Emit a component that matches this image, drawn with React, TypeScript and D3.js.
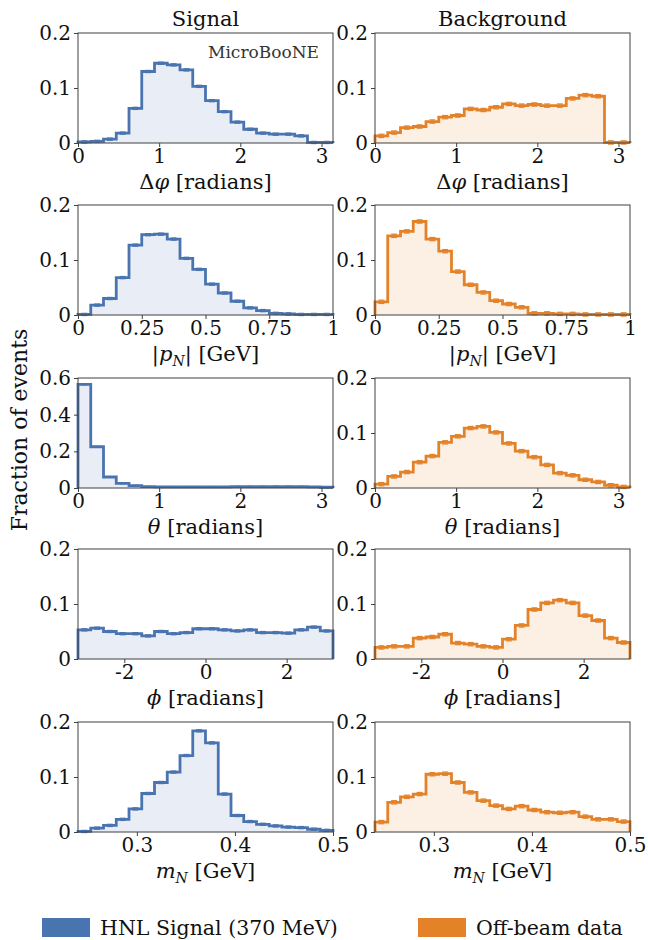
import React, { useRef, useEffect } from 'react';
import * as d3 from 'd3';

// bin contents (fraction of events), 20 equal-width bins per panel
const signalDphi = [0.002, 0.003, 0.007, 0.018, 0.063, 0.130, 0.145, 0.142, 0.133, 0.103, 0.077, 0.057, 0.038, 0.025, 0.018, 0.016, 0.016, 0.013, 0.001, 0.001];
const bgDphi = [0.013, 0.019, 0.028, 0.030, 0.039, 0.047, 0.050, 0.062, 0.060, 0.065, 0.071, 0.068, 0.070, 0.068, 0.068, 0.081, 0.087, 0.085, 0.001, 0.001];
const signalP = [0.001, 0.018, 0.030, 0.068, 0.127, 0.146, 0.147, 0.138, 0.103, 0.083, 0.056, 0.040, 0.025, 0.013, 0.008, 0.003, 0.002, 0.001, 0.001, 0.001];
const bgP = [0.024, 0.144, 0.152, 0.170, 0.138, 0.116, 0.079, 0.055, 0.041, 0.026, 0.020, 0.014, 0.003, 0.003, 0.002, 0.002, 0.001, 0.001, 0.001, 0.001];
const signalTheta = [0.565, 0.225, 0.060, 0.025, 0.013, 0.007, 0.006, 0.006, 0.006, 0.006, 0.006, 0.006, 0.007, 0.007, 0.007, 0.008, 0.008, 0.007, 0.006, 0.004];
const bgTheta = [0.007, 0.021, 0.029, 0.047, 0.058, 0.083, 0.094, 0.109, 0.112, 0.101, 0.081, 0.067, 0.056, 0.042, 0.027, 0.023, 0.015, 0.011, 0.005, 0.002];
const signalPhi = [0.053, 0.056, 0.050, 0.046, 0.046, 0.042, 0.050, 0.046, 0.048, 0.055, 0.055, 0.053, 0.051, 0.053, 0.048, 0.048, 0.047, 0.053, 0.058, 0.051];
const bgPhi = [0.021, 0.023, 0.023, 0.038, 0.040, 0.045, 0.029, 0.027, 0.023, 0.021, 0.036, 0.061, 0.090, 0.102, 0.107, 0.102, 0.079, 0.070, 0.038, 0.030];
const signalMass = [0.001, 0.007, 0.012, 0.023, 0.042, 0.070, 0.090, 0.109, 0.139, 0.184, 0.162, 0.069, 0.030, 0.019, 0.014, 0.011, 0.009, 0.008, 0.005, 0.003];
const bgMass = [0.018, 0.054, 0.064, 0.069, 0.105, 0.106, 0.090, 0.072, 0.057, 0.048, 0.042, 0.047, 0.040, 0.036, 0.035, 0.036, 0.028, 0.023, 0.023, 0.019];

const PI = Math.PI;
const angleTicks = [0, 1, 2, 3];
const momentumTicks = [0, 0.25, 0.5, 0.75, 1];
const phiTicks = [-2, 0, 2];
const massTicks = [0.3, 0.4, 0.5];
const yTicksSmall = [0, 0.1, 0.2];
const yTicksTheta = [0, 0.2, 0.4, 0.6];

const signalErr = 0.002;
const bgErr = 0.003;

const columnTitles = ['Signal', 'Background'];
const legendLabels = ['HNL Signal (370 MeV)', 'Off-beam data'];

const BLUE = '#4a74b0';
const ORANGE = '#e38228';
const BLUE_FILL = '#e9eef6';
const ORANGE_FILL = '#fcefe3';
const FONT = '"DejaVu Serif", serif';

// each label is a list of [text, style] pieces
const rows = [
  { data: [signalDphi, bgDphi], domain: [0, PI], ticks: angleTicks, yMax: [0.2, 0.2], yTicks: [yTicksSmall, yTicksSmall],
    label: [['Δ', ''], ['φ', 'it'], [' [radians]', '']] },
  { data: [signalP, bgP], domain: [0, 1], ticks: momentumTicks, yMax: [0.2, 0.2], yTicks: [yTicksSmall, yTicksSmall],
    label: [['|', ''], ['p', 'it'], ['N', 'sub'], ['| [GeV]', 'up']] },
  { data: [signalTheta, bgTheta], domain: [0, PI], ticks: angleTicks, yMax: [0.6, 0.2], yTicks: [yTicksTheta, yTicksSmall],
    label: [['θ', 'it'], [' [radians]', '']] },
  { data: [signalPhi, bgPhi], domain: [-PI, PI], ticks: phiTicks, yMax: [0.2, 0.2], yTicks: [yTicksSmall, yTicksSmall],
    label: [['ϕ', 'it'], [' [radians]', '']] },
  { data: [signalMass, bgMass], domain: [0.24, 0.5], ticks: massTicks, yMax: [0.2, 0.2], yTicks: [yTicksSmall, yTicksSmall],
    label: [['m', 'it'], ['N', 'sub'], [' [GeV]', 'up']] },
];

const fmt = (v) => {
  if (v === 0) return '0';
  return String(+v.toFixed(2));
};

const App = () => {
  const svgRef = useRef(null);

  useEffect(() => {
    const width = 648;
    const height = 940;
    const colX = [78, 375];
    const plotW = 255;
    const rowTop = [33, 205, 378, 549, 722];
    const plotH = 110;

    const svg = d3.select(svgRef.current)
      .attr('width', width)
      .attr('height', height)
      .style('background', 'white');
    svg.selectAll('*').remove();

    rows.forEach((row, r) => {
      [0, 1].forEach(c => {
        const values = row.data[c];
        const color = c === 0 ? BLUE : ORANGE;
        const fill = c === 0 ? BLUE_FILL : ORANGE_FILL;
        const err = c === 0 ? signalErr : bgErr;
        const x0 = colX[c];
        const y0 = rowTop[r];

        const x = d3.scaleLinear().domain(row.domain).range([x0, x0 + plotW]);
        const y = d3.scaleLinear().domain([0, row.yMax[c]]).range([y0 + plotH, y0]);

        const g = svg.append('g');

        // bin edges
        const n = values.length;
        const step = (row.domain[1] - row.domain[0]) / n;
        const edges = d3.range(n + 1).map(i => row.domain[0] + i * step);

        const pts = [[edges[0], 0]];
        values.forEach((v, i) => {
          pts.push([edges[i], v]);
          pts.push([edges[i + 1], v]);
        });
        pts.push([edges[n], 0]);

        const line = d3.line().x(d => x(d[0])).y(d => y(d[1]));

        g.append('path')
          .datum(pts)
          .attr('fill', fill)
          .attr('stroke', 'none')
          .attr('d', line);

        // error bars
        values.forEach((v, i) => {
          const cx = x((edges[i] + edges[i + 1]) / 2);
          g.append('line')
            .attr('x1', cx).attr('x2', cx)
            .attr('y1', y(v - err)).attr('y2', y(v + err))
            .attr('stroke', color).attr('stroke-width', 1.2);
          [v - err, v + err].forEach(e => {
            g.append('line')
              .attr('x1', cx - 3).attr('x2', cx + 3)
              .attr('y1', y(e)).attr('y2', y(e))
              .attr('stroke', color).attr('stroke-width', 1.2);
          });
        });

        g.append('path')
          .datum(pts)
          .attr('fill', 'none')
          .attr('stroke', color)
          .attr('stroke-width', 2.8)
          .attr('d', line);

        // frame
        g.append('rect')
          .attr('x', x0).attr('y', y0)
          .attr('width', plotW).attr('height', plotH)
          .attr('fill', 'none')
          .attr('stroke', '#404040')
          .attr('stroke-width', 1);

        const xAxis = d3.axisBottom(x).tickValues(row.ticks).tickFormat(fmt).tickSize(4).tickPadding(2).tickSizeOuter(0);
        const yAxis = d3.axisLeft(y).tickValues(row.yTicks[c]).tickFormat(fmt).tickSize(4).tickPadding(3).tickSizeOuter(0);

        const gx = g.append('g')
          .attr('transform', `translate(0,${y0 + plotH})`)
          .call(xAxis);
        gx.select('.domain').remove();
        gx.selectAll('line').attr('stroke', '#404040');
        gx.selectAll('text')
          .attr('fill', '#111')
          .style('font-family', FONT)
          .style('font-size', '20px');

        const gy = g.append('g')
          .attr('transform', `translate(${x0},0)`)
          .call(yAxis);
        gy.select('.domain').remove();
        gy.selectAll('line').attr('stroke', '#404040');
        gy.selectAll('text')
          .attr('fill', '#111')
          .style('font-family', FONT)
          .style('font-size', '20px');

        // axis label
        const lab = g.append('text')
          .attr('x', x0 + plotW / 2)
          .attr('y', y0 + plotH + 46)
          .attr('text-anchor', 'middle')
          .attr('fill', '#111')
          .style('font-family', FONT)
          .style('font-size', '21px');
        row.label.forEach(([t, s]) => {
          const ts = lab.append('tspan').text(t);
          if (s === 'it' || s === 'sub') ts.style('font-style', 'italic');
          if (s === 'sub') ts.attr('dy', 5).style('font-size', '14px');
          if (s === 'up') ts.attr('dy', -5);
        });

        if (r === 0) {
          g.append('text')
            .attr('x', x0 + plotW / 2)
            .attr('y', y0 - 7)
            .attr('text-anchor', 'middle')
            .attr('fill', '#111')
            .style('font-family', FONT)
            .style('font-size', '21px')
            .text(columnTitles[c]);
        }
        if (r === 0 && c === 0) {
          g.append('text')
            .attr('x', x0 + plotW - 14)
            .attr('y', y0 + 25)
            .attr('text-anchor', 'end')
            .attr('fill', '#333')
            .style('font-family', FONT)
            .style('font-size', '17px')
            .text('MicroBooNE');
        }
      });
    });

    // y label
    svg.append('text')
      .attr('transform', `translate(27,430) rotate(-90)`)
      .attr('text-anchor', 'middle')
      .attr('fill', '#111')
      .style('font-family', FONT)
      .style('font-size', '22px')
      .text('Fraction of events');

    // legend
    const legendX = [42, 418];
    legendLabels.forEach((t, i) => {
      svg.append('rect')
        .attr('x', legendX[i]).attr('y', 918)
        .attr('width', 48).attr('height', 19)
        .attr('fill', i === 0 ? BLUE : ORANGE);
      svg.append('text')
        .attr('x', legendX[i] + 58).attr('y', 935)
        .attr('fill', '#111')
        .style('font-family', FONT)
        .style('font-size', '20.5px')
        .text(t);
    });
  }, []);

  return (
    <div style={{ position: 'absolute', left: 0, top: 0, width: 648, height: 940, background: 'white' }}>
      <svg ref={svgRef}></svg>
    </div>
  );
};

export default App;
